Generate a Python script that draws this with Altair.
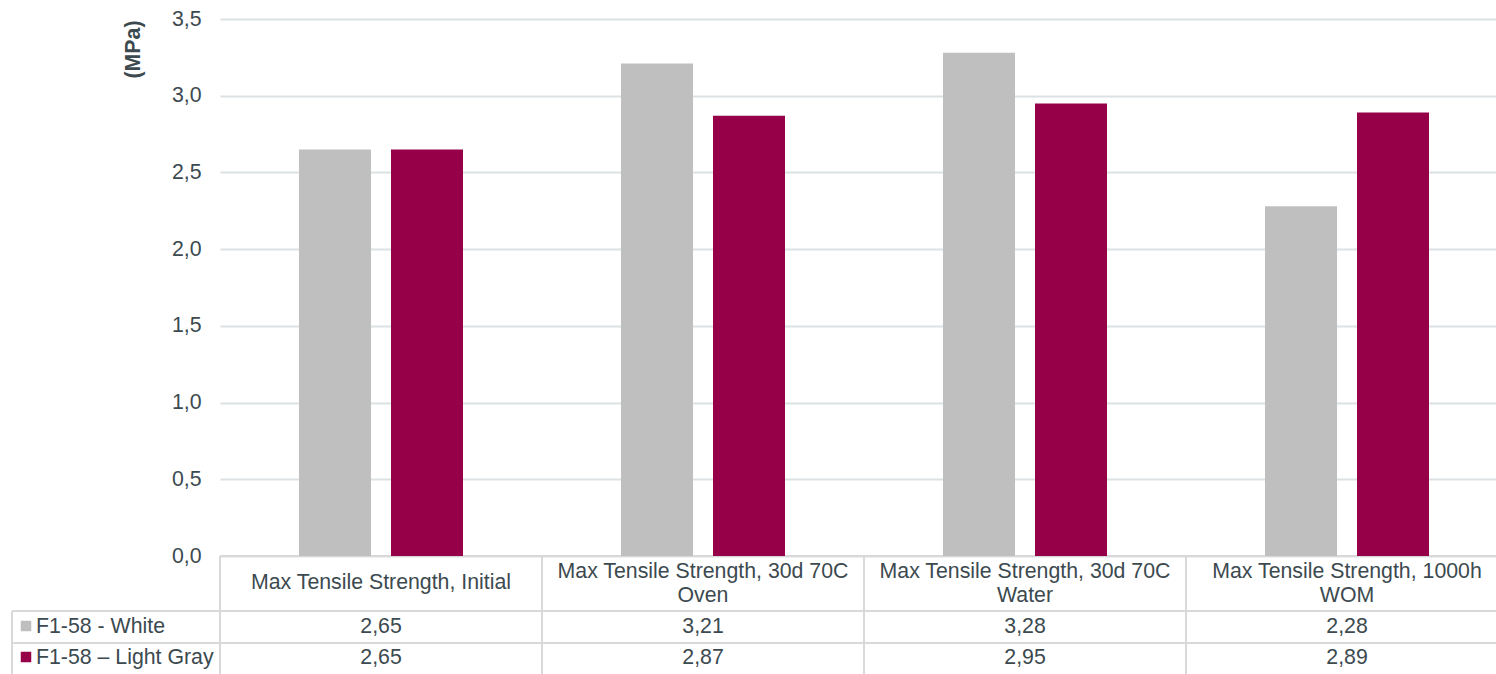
import altair as alt
import pandas as pd

# Test conditions (table column headers, "\n" marks a line break)
categories = [
    "Max Tensile Strength, Initial",
    "Max Tensile Strength, 30d 70C\nOven",
    "Max Tensile Strength, 30d 70C\nWater",
    "Max Tensile Strength, 1000h\nWOM",
]
series = ["F1-58 - White", "F1-58 \u2013 Light Gray"]
white_values = [2.65, 3.21, 3.28, 2.28]
light_gray_values = [2.65, 2.87, 2.95, 2.89]
y_ticks = [0.0, 0.5, 1.0, 1.5, 2.0, 2.5, 3.0, 3.5]

series_colors = ["#BFBFBF", "#950048"]
text_color = "#3C4A4F"
grid_color = "#DCE1E3"
table_line = "#D9D9D9"
font = "Liberation Sans"
fs = 21.3

rows = []
for cat, w, g in zip(categories, white_values, light_gray_values):
    rows.append({"category": cat, "series": series[0], "value": w})
    rows.append({"category": cat, "series": series[1], "value": g})
df = pd.DataFrame(rows)

PLOT_W, PLOT_H = 1276, 537
BAND_RANGE = [0, 1288]

x_scale = alt.Scale(domain=categories, range=BAND_RANGE, paddingInner=0, paddingOuter=0)
color_scale = alt.Scale(domain=series, range=series_colors)

base = alt.Chart(df)

bars = base.mark_bar().encode(
    x=alt.X("category:N", scale=x_scale, axis=None),
    xOffset=alt.XOffset(
        "series:N",
        scale=alt.Scale(domain=series, paddingInner=0.2174, paddingOuter=0.8587),
    ),
    y=alt.Y(
        "value:Q",
        scale=alt.Scale(domain=[0, 3.5], nice=False),
        axis=alt.Axis(
            values=y_ticks,
            labelExpr="replace(format(datum.value, '.1f'), '.', ',')",
            labelFont=font,
            labelFontSize=fs,
            labelColor=text_color,
            labelPadding=19,
            ticks=False,
            domain=False,
            grid=True,
            gridColor=grid_color,
            gridWidth=2,
            title="(MPa)",
            titleFont=font,
            titleFontSize=fs,
            titleFontWeight="bold",
            titleColor=text_color,
            titleAngle=270,
            titleAlign="right",
            titleBaseline="middle",
            titleX=-87,
            titleY=1,
        ),
    ),
    color=alt.Color("series:N", scale=color_scale, legend=None),
)

# Data table below the plot area
one = alt.Data(values=[{"k": 1}])

h_lines = alt.layer(
    alt.Chart(one).mark_rule(color=table_line, strokeWidth=2).encode(
        x=alt.value(0), x2=alt.value(PLOT_W), y=alt.value(PLOT_H)
    ),
    alt.Chart(one).mark_rule(color=table_line, strokeWidth=2).encode(
        x=alt.value(-208), x2=alt.value(PLOT_W), y=alt.value(592)
    ),
    alt.Chart(one).mark_rule(color=table_line, strokeWidth=2).encode(
        x=alt.value(-208), x2=alt.value(PLOT_W), y=alt.value(624)
    ),
    alt.Chart(one).mark_rule(color=table_line, strokeWidth=2).encode(
        x=alt.value(-208), y=alt.value(592), y2=alt.value(660)
    ),
)

# Header cells: split each header into its first and second line
cat_df = pd.DataFrame({
    "category": categories,
    "line1": [c.split("\n")[0] for c in categories],
    "line2": [c.split("\n")[1] if "\n" in c else "" for c in categories],
})

v_lines = alt.Chart(cat_df).mark_rule(color=table_line, strokeWidth=2).encode(
    x=alt.X("category:N", scale=x_scale, bandPosition=0, axis=None),
    y=alt.value(PLOT_H),
    y2=alt.value(660),
)

text_style = dict(font=font, fontSize=fs, color=text_color, baseline="middle", align="center")

header_single = alt.Chart(cat_df).transform_filter("datum.line2 == ''").mark_text(**text_style).encode(
    x=alt.X("category:N", scale=x_scale, axis=None),
    y=alt.value(564),
    text="line1:N",
)
header_first = alt.Chart(cat_df).transform_filter("datum.line2 != ''").mark_text(**text_style).encode(
    x=alt.X("category:N", scale=x_scale, axis=None),
    y=alt.value(553),
    text="line1:N",
)
header_second = alt.Chart(cat_df).transform_filter("datum.line2 != ''").mark_text(**text_style).encode(
    x=alt.X("category:N", scale=x_scale, axis=None),
    y=alt.value(577),
    text="line2:N",
)

value_layers = []
for s, ypos in zip(series, [608, 639]):
    value_layers.append(
        base.transform_filter(alt.datum.series == s)
        .transform_calculate(label="replace(format(datum.value, '.2f'), '.', ',')")
        .mark_text(**text_style)
        .encode(
            x=alt.X("category:N", scale=x_scale, axis=None),
            y=alt.value(ypos),
            text="label:N",
        )
    )

legend_squares = []
legend_labels = []
for s, ypos in zip(series, [607, 638]):
    sub = alt.Chart(pd.DataFrame({"series": [s]}))
    legend_squares.append(
        sub.mark_square(size=110, opacity=1).encode(
            x=alt.value(-194),
            y=alt.value(ypos),
            color=alt.Color("series:N", scale=color_scale, legend=None),
        )
    )
    legend_labels.append(
        sub.mark_text(font=font, fontSize=fs, color=text_color, align="left", baseline="middle").encode(
            x=alt.value(-184),
            y=alt.value(ypos + 1),
            text="series:N",
        )
    )

chart = alt.layer(
    h_lines, v_lines, bars, header_single, header_first, header_second,
    *value_layers, *legend_squares, *legend_labels
).properties(
    width=PLOT_W,
    height=PLOT_H,
    autosize=alt.AutoSizeParams(type="none"),
    padding={"left": 220, "top": 19, "right": 0, "bottom": 118},
    background="white",
).configure_view(stroke=None)

chart.save("out.html", embed_options={"renderer": "svg", "actions": False})
